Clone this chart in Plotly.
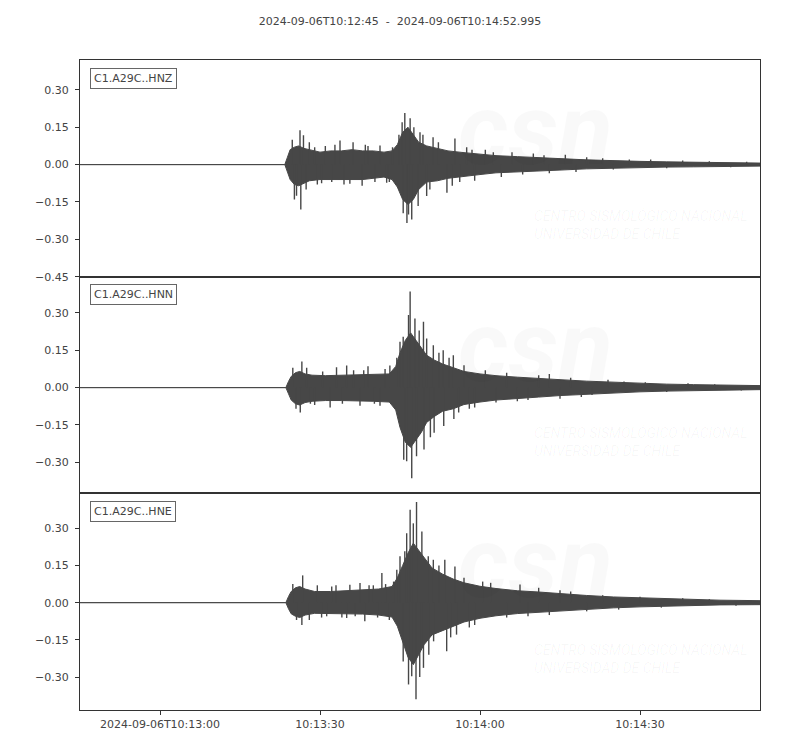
"""
Three-component accelerogram, station C1.A29C (HNZ / HNN / HNE).
Waveform drawn as a filled envelope plus the visible peak spikes.
"""

import plotly.graph_objects as go
from plotly.subplots import make_subplots

title_text = "2024-09-06T10:12:45  -  2024-09-06T10:14:52.995"
channels = ["C1.A29C..HNZ", "C1.A29C..HNN", "C1.A29C..HNE"]

# x tick positions in seconds after 10:12:45
tick_secs = [15, 45, 75, 105]
tick_labels = ["2024-09-06T10:13:00", "10:13:30", "10:14:00", "10:14:30"]

# envelopes (seconds after start, upper, lower)
hnz_t = [0, 38.4, 38.9, 39.4, 40.2, 41.0, 42.0, 43.0, 45, 47, 49, 51, 53, 55, 57, 58.5, 59.5, 60.5,
         61.5, 62.5, 63.5, 65, 67, 69, 72, 75, 78, 82, 86, 90, 95, 100, 105, 110, 115, 120, 125, 127.9]
hnz_up = [0, 0.0, 0.03, 0.06, 0.07, 0.075, 0.065, 0.06, 0.05, 0.055, 0.055, 0.06, 0.055, 0.055, 0.05,
          0.055, 0.08, 0.13, 0.15, 0.12, 0.09, 0.075, 0.065, 0.055, 0.048, 0.042, 0.036, 0.032, 0.027,
          0.024, 0.019, 0.015, 0.013, 0.011, 0.009, 0.008, 0.007, 0.006]
hnz_lo = [0, 0.0, -0.03, -0.06, -0.08, -0.085, -0.075, -0.065, -0.06, -0.06, -0.06, -0.06, -0.06,
          -0.055, -0.05, -0.06, -0.09, -0.14, -0.16, -0.14, -0.10, -0.07, -0.065, -0.055, -0.048,
          -0.04, -0.033, -0.028, -0.025, -0.022, -0.017, -0.014, -0.012, -0.01, -0.009, -0.007,
          -0.006, -0.006]

hnn_t = [0, 38.6, 39.1, 39.6, 40.4, 41.2, 42.2, 43.5, 46, 49, 52, 55, 58, 59.2, 60, 61, 62, 63, 64,
         65, 66.5, 68, 70, 72, 75, 78, 82, 86, 90, 95, 100, 105, 110, 115, 120, 127.9]
hnn_up = [0, 0.0, 0.025, 0.045, 0.06, 0.065, 0.055, 0.05, 0.048, 0.05, 0.052, 0.052, 0.055, 0.085,
          0.14, 0.19, 0.22, 0.19, 0.16, 0.13, 0.11, 0.095, 0.08, 0.065, 0.055, 0.048, 0.042, 0.038,
          0.032, 0.026, 0.021, 0.017, 0.014, 0.012, 0.01, 0.008]
hnn_lo = [0, 0.0, -0.025, -0.05, -0.065, -0.07, -0.06, -0.055, -0.052, -0.052, -0.052, -0.055,
          -0.058, -0.09, -0.16, -0.22, -0.24, -0.21, -0.18, -0.14, -0.115, -0.095, -0.085, -0.068,
          -0.058, -0.05, -0.043, -0.038, -0.032, -0.026, -0.021, -0.017, -0.014, -0.012, -0.01, -0.008]

hne_t = [0, 38.6, 39.1, 39.6, 40.4, 41.2, 42.2, 44, 47, 50, 53, 56, 58.5, 59.5, 60.5, 61.5, 62.5,
         63.5, 64.5, 66, 68, 70, 72, 75, 78, 82, 86, 90, 95, 100, 105, 110, 115, 120, 127.9]
hne_up = [0, 0.0, 0.025, 0.045, 0.06, 0.065, 0.055, 0.045, 0.045, 0.048, 0.05, 0.055, 0.065, 0.1,
          0.15, 0.2, 0.24, 0.21, 0.18, 0.14, 0.115, 0.095, 0.08, 0.066, 0.057, 0.048, 0.043, 0.036,
          0.029, 0.023, 0.019, 0.015, 0.012, 0.01, 0.008]
hne_lo = [0, 0.0, -0.025, -0.045, -0.055, -0.06, -0.05, -0.043, -0.042, -0.045, -0.046, -0.05,
          -0.058, -0.095, -0.16, -0.22, -0.25, -0.21, -0.17, -0.13, -0.11, -0.095, -0.078, -0.063,
          -0.053, -0.044, -0.04, -0.034, -0.027, -0.021, -0.017, -0.014, -0.011, -0.009, -0.008]

# individual peaks sticking out of the envelope
hnz_spike_t = [39.8, 40.2, 40.6, 41.25, 41.4, 41.9, 42.4, 43.0, 44.0, 44.5, 45.3, 46.0, 47.2, 47.8,
               48.75, 49.5, 50.6, 51.2, 52.9, 53.5, 54.0, 55.3, 56.25, 57.5, 58.0, 58.6, 59.8, 60.4,
               60.6, 60.9, 61.3, 61.6, 61.9, 62.2, 62.6, 63.4, 63.75, 64.3, 65.0, 65.6, 66.2, 67.2,
               68.8, 69.8, 70.3, 71.2, 72.5, 73.5, 74, 76, 77.5, 79, 81, 83, 85, 87, 88, 91, 93, 95,
               98, 100, 103, 107, 110, 113, 118, 122, 125]
hnz_spike_v = [0.10, -0.14, -0.125, 0.138, -0.18, 0.118, -0.10, 0.09, 0.07, -0.08, -0.075, 0.075,
               -0.07, 0.08, 0.097, -0.08, -0.077, 0.09, -0.085, 0.08, 0.075, -0.07, 0.077, -0.073,
               -0.07, 0.07, 0.12, 0.17, -0.195, 0.207, -0.235, -0.20, 0.186, -0.22, 0.15, -0.166,
               0.13, 0.12, -0.126, -0.10, 0.11, 0.09, -0.113, -0.085, 0.105, -0.07, 0.07, 0.06,
               -0.065, 0.06, 0.05, -0.05, 0.05, -0.04, 0.045, 0.038, -0.035, 0.04, -0.03, 0.03,
               0.025, -0.02, 0.02, 0.02, -0.015, 0.016, 0.013, -0.011, 0.011]

hnn_spike_t = [39.9, 40.5, 41.3, 41.6, 42.5, 43.2, 44, 45.5, 46.9, 48.1, 49.2, 50, 51.3, 52.5, 53.2,
               54, 55.2, 56.25, 57.2, 58.1, 59.4, 60, 60.6, 60.7, 61.25, 61.6, 61.9, 62.2, 62.8,
               63.1, 63.6, 64.4, 64.5, 65, 65.7, 66.25, 66.4, 67.3, 68.1, 68.2, 69.2, 70, 70.1, 71,
               72, 73, 74, 76, 78, 80, 82, 84, 86, 88, 90, 92, 94, 96, 99, 102, 106, 110, 114, 119, 124]
hnn_spike_v = [0.08, -0.085, -0.10, 0.105, 0.08, -0.065, -0.07, 0.065, -0.08, 0.082, -0.065, 0.089,
               0.07, -0.073, 0.07, 0.086, -0.065, -0.073, 0.075, 0.089, 0.12, 0.184, 0.204, -0.29,
               -0.296, 0.292, 0.386, -0.364, 0.278, -0.276, 0.23, 0.265, -0.249, 0.197, -0.2, 0.17,
               -0.181, 0.14, 0.15, -0.154, 0.12, 0.13, -0.126, -0.1, 0.09, -0.085, -0.08, 0.07,
               -0.06, 0.06, -0.055, -0.05, 0.05, 0.055, -0.045, 0.04, -0.038, -0.03, 0.032, 0.025,
               0.022, -0.018, 0.018, 0.014, -0.012]

hne_spike_t = [39.9, 40.6, 41.6, 41.75, 43, 44.5, 45.3, 46.25, 47.2, 48, 49.1, 50, 50.6, 51.6, 52.5,
               53.4, 54.2, 55, 55.8, 56.6, 57.3, 58, 58.8, 59.4, 60, 60.6, 60.9, 61.25, 61.6, 61.9,
               62.2, 62.5, 63.0, 63.1, 63.7, 64.1, 64.4, 65.3, 65.4, 66.25, 66.3, 67.3, 68.4, 68.75,
               69.5, 70.3, 70.6, 72, 73, 74, 75.5, 77, 80, 82.5, 84, 86, 88, 90, 92, 95, 98, 101,
               105, 109, 113, 118, 123]
hne_spike_v = [0.075, -0.07, -0.09, 0.11, -0.07, 0.07, -0.06, -0.055, 0.065, 0.07, -0.06, -0.062,
               0.072, -0.055, 0.079, -0.075, 0.07, 0.07, -0.06, 0.12, 0.075, -0.07, 0.085, 0.133,
               0.187, -0.237, 0.207, 0.28, -0.33, 0.375, -0.297, 0.32, -0.39, 0.406, -0.3, 0.287,
               -0.263, 0.187, -0.21, 0.173, -0.156, 0.15, 0.173, -0.196, -0.14, 0.146, -0.129, 0.1,
               -0.1, -0.09, 0.085, 0.08, -0.06, 0.073, -0.055, 0.06, -0.05, 0.05, 0.045, -0.035,
               0.03, -0.028, 0.024, -0.02, 0.018, 0.014, -0.012]

y_ranges = [[-0.45, 0.42], [-0.425, 0.446], [-0.433, 0.441]]

WAVE = "#474747"
TEXT = "#444444"
FONT = "DejaVu Sans"

panels = [
    (hnz_t, hnz_up, hnz_lo, hnz_spike_t, hnz_spike_v),
    (hnn_t, hnn_up, hnn_lo, hnn_spike_t, hnn_spike_v),
    (hne_t, hne_up, hne_lo, hne_spike_t, hne_spike_v),
]

fig = make_subplots(rows=3, cols=1, shared_xaxes=True, vertical_spacing=0)

for i, (t, up, lo, st, sv) in enumerate(panels):
    row = i + 1
    suffix = "" if row == 1 else str(row)
    xd = f"x{suffix} domain"
    yd = f"y{suffix} domain"

    # faint CSN watermark (under the trace)
    fig.add_annotation(xref=xd, yref=yd, x=0.67, y=0.68, text="<b><i>csn</i></b>",
                       showarrow=False, xanchor="center", yanchor="middle",
                       font=dict(family="Roboto", size=100, color="rgba(0,0,0,0.025)"))
    fig.add_annotation(xref=xd, yref=yd, x=0.665, y=0.24,
                       text="<i>CENTRO SISMOLÓGICO NACIONAL<br>UNIVERSIDAD DE CHILE</i>",
                       showarrow=False, xanchor="left", yanchor="middle", align="left",
                       font=dict(family="Roboto", size=14, color="rgba(0,0,0,0.035)"))

    # envelope polygon
    fig.add_trace(go.Scatter(
        x=t + t[::-1], y=up + lo[::-1], mode="lines", fill="toself",
        fillcolor=WAVE, line=dict(color=WAVE, width=1), hoverinfo="skip",
        showlegend=False), row=row, col=1)
    # spikes: vertical strokes from zero to each peak
    sx, sy = [], []
    for tt, vv in zip(st, sv):
        sx += [tt, tt, None]
        sy += [0, vv, None]
    fig.add_trace(go.Scatter(
        x=sx, y=sy, mode="lines", line=dict(color=WAVE, width=1.4),
        hoverinfo="skip", showlegend=False), row=row, col=1)

    # channel label box
    fig.add_annotation(xref=xd, yref=yd, x=0.015, y=0.965, text=channels[i],
                       showarrow=False, xanchor="left", yanchor="top",
                       font=dict(family=FONT, size=11, color=TEXT),
                       bgcolor="white", bordercolor="#666666", borderwidth=1, borderpad=3)

    fig.update_yaxes(range=y_ranges[i], dtick=0.15, tick0=0, tickformat=".2f",
                     showgrid=False, zeroline=False, showline=True, mirror=True,
                     linecolor="#333333", linewidth=1, ticks="outside", ticklen=4,
                     tickcolor="#333333", ticklabelstandoff=4, row=row, col=1)
    fig.update_xaxes(range=[0, 127.5], showgrid=False, zeroline=False, showline=True,
                     mirror=True, linecolor="#333333", linewidth=1,
                     tickvals=tick_secs, ticktext=tick_labels,
                     ticks="outside" if row == 3 else "", ticklen=4, tickcolor="#333333",
                     showticklabels=(row == 3), row=row, col=1)

fig.update_layout(
    width=800, height=750,
    margin=dict(l=72, r=48, t=52, b=48),
    paper_bgcolor="white", plot_bgcolor="white",
    font=dict(family=FONT, size=11, color=TEXT),
    title=dict(text=title_text, x=0.49, xanchor="center", y=0.983, yanchor="middle",
               font=dict(family=FONT, size=11, color=TEXT)),
    showlegend=False,
)

fig.write_html("out.html")
